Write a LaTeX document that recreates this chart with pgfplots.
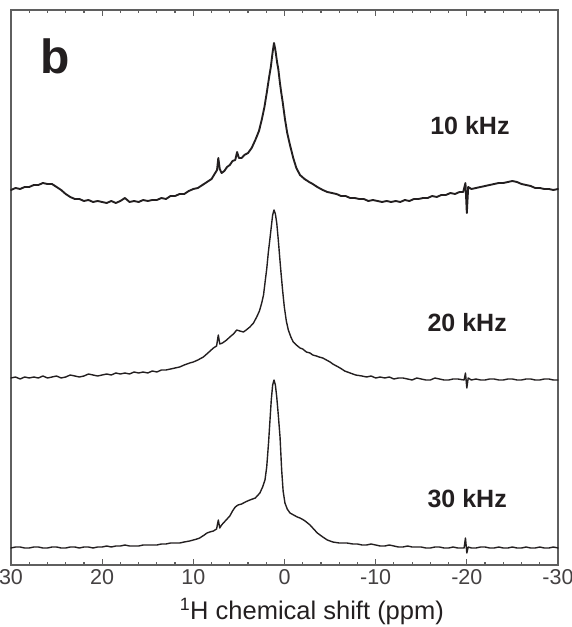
\documentclass[border=0pt]{standalone}
\usepackage{fontspec}
\setmainfont{Liberation Sans}
\usepackage{pgfplots}
\pgfplotsset{compat=1.18}
\definecolor{axisgray}{RGB}{95,95,95}
\definecolor{txt}{RGB}{35,31,32}
\begin{document}
\begin{tikzpicture}
\path[use as bounding box] (-11bp,-62bp) rectangle (561bp,565bp);
\begin{axis}[
  at={(0,0)}, anchor=south west,
  width=547bp, height=555bp, scale only axis,
  x dir=reverse, xmin=-30, xmax=30, ymin=0, ymax=555,
  ytick=\empty,
  xtick={-30,-20,-10,0,10,20,30},
  xticklabels={-30,-20,-10,0,10,20,30},
  minor x tick num=4,
  tick align=inside,
  axis line style={axisgray, line width=1.4pt},
  tick style={axisgray, line width=1.2pt},
  major tick length=6bp, minor tick length=3.5bp,
  xticklabel style={font=\fontsize{21.5bp}{26bp}\selectfont, text=txt!85!white, anchor=base, yshift=-19bp},
  clip=false,
  every axis plot/.append style={line join=round, line cap=round},
]
% 10 kHz
\addplot[txt, line width=1.9pt] coordinates {
(30,375)(29.5,377)(29,376)(28.5,378)(28,378)(27.5,380)(27,380)(26.5,382)(26,381)(25.5,381)
(25,378)(24.5,375)(24,371)(23.5,368)(23,366)(22.5,366)(22,364)(21.5,365)(21,363)(20.5,364)
(20,363)(19.5,362)(19,364)(18.5,362)(18,364)(17.5,367)(17,363)(16.5,364)(16,363)(15.5,365)
(15,364)(14.5,365)(14,365)(13.5,367)(13,366)(12.5,369)(12,369)(11.5,371)(11,371)(10.5,374)
(10,376)(9.5,377)(9,380)(8.5,383)(8,386)(7.6,392)(7.4,395)(7.26,407)(7.1,396)(6.9,392)
(6.6,394)(6.3,398)(6.0,400)(5.7,404)(5.4,405)(5.2,413)(5.0,407)(4.7,407)(4.4,410)(4.0,412)
(3.6,417)(3.2,425)(2.8,434)(2.5,445)(2.2,458)(1.95,472)(1.7,487)(1.5,498)(1.3,513)(1.15,522)
(1.0,515)(0.8,502)(0.68,496)(0.5,482)(0.35,472)(0.2,463)(-0.05,446)(-0.3,432)(-0.6,420)(-0.96,407)
(-1.3,397)(-1.7,390)(-2.2,386)(-2.7,383)(-3.1,381)(-3.6,378)(-4.2,375)(-4.7,373)(-5.2,372)(-5.7,371)
(-6.2,369)(-6.7,369)(-7.2,367)(-7.7,367)(-8.2,366)(-8.7,366)(-9.2,364)(-9.7,365)(-10.2,364)(-10.7,363)
(-11.2,364)(-11.7,363)(-12.2,364)(-12.7,363)(-13.2,365)(-13.7,364)(-14.2,366)(-14.7,366)(-15.2,367)(-15.7,367)
(-16.2,369)(-16.7,368)(-17.2,370)(-17.7,370)(-18.2,372)(-18.7,371)(-19.2,373)(-19.6,373)(-19.85,382)(-20.0,352)
(-20.15,378)(-20.5,376)(-21,377)(-21.5,378)(-22,379)(-22.5,380)(-23,381)(-23.5,382)(-24,382)(-24.5,383)
(-25,384)(-25.5,383)(-26,381)(-26.5,380)(-27,379)(-27.5,377)(-28,377)(-28.5,376)(-29,376)(-29.5,375)(-30,376)
};
% 20 kHz
\addplot[txt, line width=1.4pt] coordinates {
(30,187)(29.5,188)(29,186)(28.5,188)(28,187)(27.5,188)(27,187)(26.5,189)(26,187)(25.5,188)
(25,189)(24.5,187)(24,188)(23.5,190)(23,189)(22.5,188)(22,189)(21.5,191)(21,190)(20.5,189)
(20,190)(19.5,191)(19,190)(18.5,192)(18,191)(17.5,192)(17,191)(16.5,193)(16,192)(15.5,193)
(15,192)(14.5,194)(14,193)(13.5,195)(13,195)(12.5,196)(12,197)(11.5,198)(11,200)(10.4,202)
(10,203)(9.5,205)(8.9,208)(8.4,212)(7.8,217)(7.45,219)(7.26,230)(7.1,221)(6.8,222)(6.34,225)
(6.0,228)(5.6,231)(5.24,235)(4.9,234)(4.5,233)(4.2,235)(3.8,238)(3.4,242)(3.05,248)(2.75,254)
(2.5,262)(2.3,270)(2.14,282)(1.95,296)(1.78,312)(1.6,326)(1.45,338)(1.3,350)(1.15,355)(1.0,351)
(0.85,342)(0.68,325)(0.5,305)(0.38,292)(0.2,274)(0.02,258)(-0.2,244)(-0.42,235)(-0.7,228)(-0.96,223)
(-1.3,220)(-1.7,217)(-2.0,216)(-2.4,213)(-2.8,212)(-3.1,210)(-3.5,209)(-3.8,208)(-4.2,207)(-4.6,205)
(-5.0,203)(-5.3,201)(-5.7,199)(-6.1,197)(-6.6,194)(-7.2,192)(-7.8,190)(-8.5,189)(-9,188)(-9.5,189)
(-10,187)(-10.5,188)(-11,187)(-11.5,188)(-12,186)(-12.5,187)(-13,187)(-13.5,186)(-14,185)(-14.5,187)
(-15,186)(-15.5,185)(-16,185)(-16.5,187)(-17,186)(-17.5,185)(-18,185)(-18.5,186)(-19,186)(-19.7,185)
(-19.85,192)(-20.0,177)(-20.15,187)(-20.5,185)(-21,186)(-21.5,185)(-22,185)(-22.5,186)(-23,186)(-23.5,185)
(-24,185)(-24.5,186)(-25,186)(-25.5,185)(-26,185)(-26.5,186)(-27,186)(-27.5,185)(-28,185)(-28.5,186)
(-29,186)(-29.5,185)(-30,185)
};
% 30 kHz
\addplot[txt, line width=1.4pt] coordinates {
(30,17)(29.5,18)(29,18)(28.5,17)(28,17)(27.5,18)(27,18)(26.5,17)(26,17)(25.5,18)
(25,18)(24.5,17)(24,17)(23.5,18)(23,18)(22.5,17)(22,18)(21.5,18)(21,17)(20.5,18)
(20,18)(19.5,19)(19,18)(18.5,19)(18,19)(17.5,20)(17,19)(16.5,19)(16,19)(15.5,20)
(15,20)(14.5,20)(14,20)(13.5,21)(13,21)(12.5,22)(12,22)(11.5,22)(11,23)(10.4,24)
(10,25)(9.6,26)(9.3,27)(8.8,30)(8.5,32)(8.2,33)(7.8,34)(7.45,36)(7.26,45)(7.1,37)
(6.9,40)(6.6,43)(6.3,46)(6.0,49)(5.7,54)(5.4,58)(5.1,60)(4.7,61)(4.3,63)(3.8,65)
(3.2,67)(2.9,70)(2.7,72)(2.4,78)(2.14,85)(1.95,98)(1.75,122)(1.59,145)(1.45,165)(1.3,180)
(1.15,185)(1.0,180)(0.85,168)(0.68,150)(0.49,128)(0.31,95)(0.15,74)(-0.05,62)(-0.3,56)(-0.6,52)
(-1.0,50)(-1.4,48)(-1.7,47)(-2.1,45)(-2.4,43)(-2.8,40)(-3.1,37)(-3.6,32)(-4.2,28)(-4.7,25)
(-5.3,23)(-6,22)(-6.85,22)(-7.5,21)(-8,21)(-8.5,20)(-9,20)(-9.5,21)(-10,20)(-10.5,19)
(-11,19)(-11.5,20)(-12,19)(-12.5,18)(-13,18)(-13.5,19)(-14,18)(-14.5,18)(-15,18)(-15.5,17)
(-16,17)(-16.5,18)(-17,18)(-17.5,17)(-18,17)(-18.5,18)(-19,17)(-19.7,17)(-19.85,27)(-20.0,12)
(-20.15,18)(-20.5,17)(-21,17)(-21.5,18)(-22,18)(-22.5,17)(-23,17)(-23.5,18)(-24,17)(-24.5,17)
(-25,18)(-25.5,17)(-26,17)(-26.5,18)(-27,17)(-27.5,17)(-28,18)(-28.5,17)(-29,17)(-29.5,18)(-30,17)
};
\node[anchor=base, text=txt, font=\fontsize{48bp}{56bp}\selectfont\bfseries] at (rel axis cs:0.08,0.886) {b};
\node[anchor=base, text=txt, font=\fontsize{25bp}{30bp}\selectfont\bfseries] at (rel axis cs:0.839,0.775) {10 kHz};
\node[anchor=base, text=txt, font=\fontsize{25bp}{30bp}\selectfont\bfseries] at (rel axis cs:0.834,0.4216) {20 kHz};
\node[anchor=base, text=txt, font=\fontsize{25bp}{30bp}\selectfont\bfseries] at (rel axis cs:0.834,0.1027) {30 kHz};
\node[anchor=base, text=txt, font=\fontsize{25.5bp}{30bp}\selectfont] at (rel axis cs:0.55,0) [yshift=-54bp] {\textsuperscript{1}H chemical shift (ppm)};
\end{axis}
\end{tikzpicture}
\end{document}
